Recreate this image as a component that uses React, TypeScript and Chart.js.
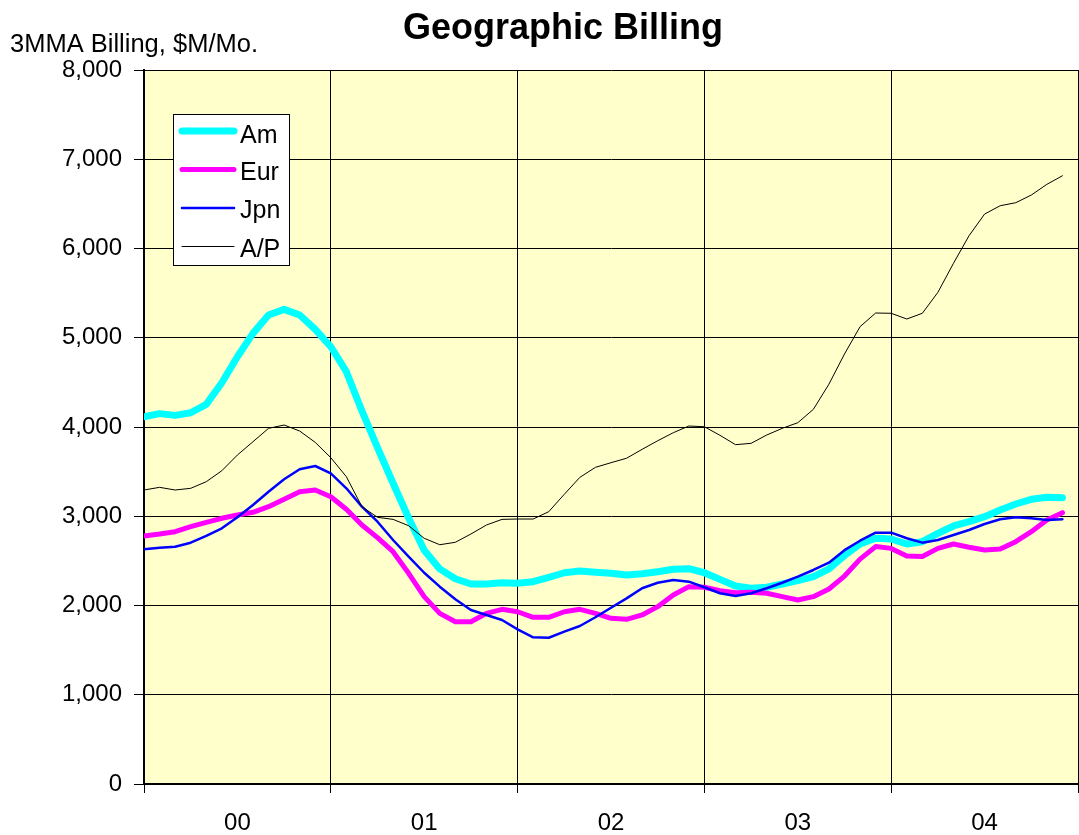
import React, { useEffect, useRef } from "react";
import { Chart, registerables } from "chart.js";

Chart.register(...registerables);

const FONT = "'Liberation Sans', Arial, sans-serif";

const chartTitle = "Geographic Billing";
const yAxisTitle = "3MMA Billing, $M/Mo.";
const yearLabels = ["00", "01", "02", "03", "04"];
const seriesNames = ["Am", "Eur", "Jpn", "A/P"];

// monthly values, Jan 2000 .. Dec 2004
const am = [
  4115, 4150, 4130, 4160, 4254, 4496, 4787, 5049, 5255, 5318, 5255, 5094,
  4899, 4620, 4180, 3770, 3370, 2980, 2620, 2410, 2300, 2241, 2241, 2255,
  2249, 2267, 2316, 2367, 2386, 2372, 2361, 2342, 2355, 2379, 2406, 2412,
  2367, 2293, 2218, 2193, 2204, 2241, 2278, 2323, 2410, 2560, 2690, 2753,
  2745, 2689, 2715, 2809, 2891, 2939, 2995, 3070, 3137, 3190, 3212, 3208,
];
const eur = [
  2779, 2801, 2827, 2883, 2932, 2977, 3014, 3044, 3107, 3190, 3275, 3294,
  3219, 3078, 2902, 2760, 2603, 2361, 2099, 1912, 1818, 1818, 1912, 1957,
  1930, 1868, 1868, 1930, 1957, 1912, 1857, 1845, 1894, 1987, 2118, 2211,
  2204, 2166, 2143, 2148, 2137, 2099, 2062, 2099, 2185, 2330, 2520, 2660,
  2640, 2555, 2550, 2640, 2689, 2652, 2622, 2633, 2715, 2827, 2958, 3040,
];
const jpn = [
  2630, 2648, 2659, 2704, 2779, 2865, 2988, 3126, 3275, 3414, 3526, 3563,
  3481, 3313, 3107, 2939, 2734, 2547, 2367, 2211, 2069, 1949, 1894, 1837,
  1733, 1644, 1639, 1707, 1770, 1868, 1975, 2080, 2193, 2255, 2286, 2267,
  2204, 2137, 2106, 2137, 2193, 2255, 2323, 2398, 2480, 2620, 2726, 2816,
  2816, 2753, 2704, 2734, 2790, 2846, 2913, 2966, 2988, 2977, 2958, 2966,
];
const ap = [
  3294, 3324, 3294, 3313, 3387, 3510, 3686, 3835, 3985, 4022, 3955, 3828,
  3656, 3443, 3107, 2988, 2965, 2894, 2753, 2681, 2708, 2801, 2902, 2965,
  2969, 2969, 3051, 3246, 3436, 3548, 3600, 3650, 3750, 3846, 3936, 4011,
  4003, 3907, 3802, 3817, 3910, 3985, 4048, 4198, 4480, 4818, 5124, 5277,
  5274, 5210, 5274, 5509, 5834, 6143, 6386, 6479, 6513, 6599, 6719, 6815,
];

const seriesValues = [am, eur, jpn, ap];
const seriesColors = ["#00FFFF", "#FF00FF", "#0000FF", "#000000"];
const seriesWidths = [7, 5, 2.5, 1];

const toPoints = (vals: number[]) => vals.map((v, i) => ({ x: i, y: v }));

const bgPlugin = {
  id: "plotBg",
  beforeDraw(chart: any) {
    const { ctx, chartArea } = chart;
    ctx.save();
    ctx.fillStyle = "#FFFFFF";
    ctx.fillRect(0, 0, chart.width, chart.height);
    ctx.fillStyle = "#FFFFCC";
    ctx.fillRect(
      chartArea.left,
      chartArea.top,
      chartArea.right - chartArea.left,
      chartArea.bottom - chartArea.top
    );
    ctx.restore();
  },
};

const textPlugin = {
  id: "texts",
  afterDraw(chart: any) {
    const { ctx } = chart;
    ctx.save();
    ctx.fillStyle = "#000";
    ctx.textBaseline = "alphabetic";
    ctx.textAlign = "center";
    ctx.font = `bold 36px ${FONT}`;
    ctx.fillText(chartTitle, 563, 39);
    ctx.textAlign = "left";
    ctx.font = `25.5px ${FONT}`;
    ctx.fillText(yAxisTitle, 10, 52);

    // legend
    const bx = 173.5, by = 114.5, bw = 116, bh = 151;
    ctx.fillStyle = "#FFFFFF";
    ctx.fillRect(bx, by, bw, bh);
    ctx.strokeStyle = "#000";
    ctx.lineWidth = 1;
    ctx.strokeRect(bx, by, bw, bh);
    const lineY = [131, 169.5, 208, 246.5];
    const baseY = [143, 180, 218, 256.5];
    chart.data.datasets.forEach((ds: any, i: number) => {
      ctx.beginPath();
      ctx.lineCap = "round";
      ctx.strokeStyle = ds.borderColor;
      ctx.lineWidth = ds.borderWidth;
      ctx.moveTo(182, lineY[i]);
      ctx.lineTo(234, lineY[i]);
      ctx.stroke();
      ctx.fillStyle = "#000";
      ctx.font = `25px ${FONT}`;
      ctx.fillText(ds.label, 240, baseY[i]);
    });
    ctx.restore();
  },
};

export default function App() {
  const ref = useRef<HTMLCanvasElement | null>(null);

  useEffect(() => {
    document.body.style.margin = "0";
    const canvas = ref.current;
    if (!canvas) return;
    Chart.defaults.color = "#000";
    const chart = new Chart(canvas, {
      type: "line",
      data: {
        datasets: seriesNames.map((name, i) => ({
          label: name,
          data: toPoints(seriesValues[i]),
          borderColor: seriesColors[i],
          backgroundColor: seriesColors[i],
          borderWidth: seriesWidths[i],
          pointRadius: 0,
          tension: 0,
          fill: false,
          borderJoinStyle: "round" as const,
          borderCapStyle: "round" as const,
          order: 4 - i,
        })),
      },
      options: {
        animation: false,
        responsive: false,
        layout: { padding: { top: 70, right: 1, left: 0, bottom: 0 } },
        plugins: {
          legend: { display: false },
          title: { display: false },
          tooltip: { enabled: false },
        },
        scales: {
          x: {
            type: "linear",
            min: 0,
            max: 60,
            afterBuildTicks: (s: any) => {
              const t: any[] = [];
              for (let v = 0; v <= 60; v += 6) t.push({ value: v });
              s.ticks = t;
            },
            afterFit: (s: any) => {
              s.height = 51;
              s.paddingLeft = 0;
              s.paddingRight = 0;
            },
            ticks: {
              autoSkip: false,
              maxRotation: 0,
              minRotation: 0,
              padding: 16,
              font: { family: FONT, size: 24 },
              color: "#000",
              callback: (v: any) =>
                v % 12 === 6 ? yearLabels[(v - 6) / 12] : "",
            },
            grid: {
              color: (c: any) =>
                c.tick && c.tick.value % 12 === 0 ? "#000" : "rgba(0,0,0,0)",
              lineWidth: 1,
              tickLength: 9,
            },
            border: { display: true, color: "#000", width: 2 },
          },
          y: {
            min: 0,
            max: 8000,
            afterFit: (s: any) => {
              s.width = 144;
            },
            ticks: {
              stepSize: 1000,
              padding: 12,
              font: { family: FONT, size: 24 },
              color: "#000",
              callback: (v: any) => Number(v).toLocaleString("en-US"),
            },
            grid: { color: "#000", lineWidth: 1, tickLength: 10 },
            border: { display: true, color: "#000", width: 2 },
          },
        },
      },
      plugins: [bgPlugin, textPlugin],
    });
    return () => chart.destroy();
  }, []);

  return (
    <canvas
      ref={ref}
      width={1079}
      height={835}
      style={{ display: "block", width: 1079, height: 835 }}
    />
  );
}
